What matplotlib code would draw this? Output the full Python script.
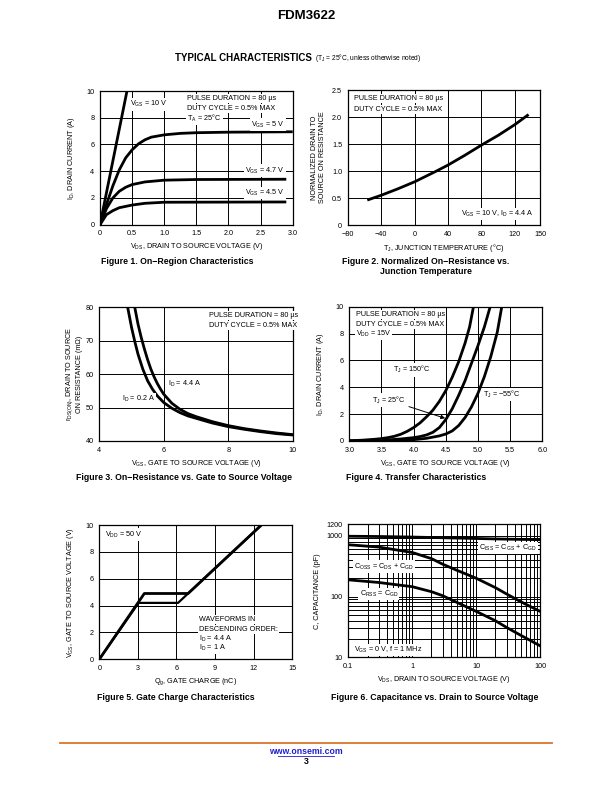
import matplotlib
matplotlib.use("Agg")
import matplotlib.pyplot as plt
import numpy as np

plt.rcParams['font.family'] = ['Liberation Sans', 'DejaVu Sans']
plt.rcParams['mathtext.fontset'] = 'custom'
plt.rcParams['mathtext.rm'] = 'Liberation Sans'
plt.rcParams['mathtext.it'] = 'Liberation Sans:italic'
plt.rcParams['mathtext.bf'] = 'Liberation Sans:bold'

# ---------------- data ----------------
# Fig 1: On-region characteristics
f1_vds_10 = [0.0, 0.42]
f1_id_10 = [0.0, 10.0]
f1_vds_5 = [0, 0.1, 0.2, 0.3, 0.4, 0.5, 0.6, 0.7, 0.8, 1.0, 1.25, 1.5, 2.0, 3.0]
f1_id_5 = [0, 1.5, 2.9, 4.1, 5.0, 5.6, 6.05, 6.35, 6.55, 6.72, 6.83, 6.88, 6.92, 6.95]
f1_vds_47 = [0, 0.1, 0.2, 0.3, 0.4, 0.5, 0.7, 1.0, 1.5, 2.9]
f1_id_47 = [0, 1.2, 2.0, 2.5, 2.8, 3.0, 3.2, 3.33, 3.38, 3.4]
f1_vds_45 = [0, 0.1, 0.2, 0.3, 0.5, 0.7, 1.0, 2.9]
f1_id_45 = [0, 0.75, 1.05, 1.27, 1.47, 1.6, 1.68, 1.7]

# Fig 2: normalized on-resistance vs junction temperature
f2_tj = [-55, -40, -20, 0, 25, 40, 60, 80, 100, 120, 135]
f2_rn = [0.47, 0.55, 0.67, 0.80, 0.99, 1.11, 1.29, 1.48, 1.66, 1.86, 2.03]

# Fig 3: on-resistance vs gate voltage
f3_vgs_02 = [4.88, 4.95, 5.0, 5.1, 5.2, 5.35, 5.5, 5.65, 5.8, 6.0, 6.25, 6.5, 6.75,
             7.0, 7.5, 8.0, 8.5, 9.0, 9.5, 10.0]
f3_r_02 = [80, 76.5, 74, 69.8, 66, 61.5, 58, 55.5, 53.5, 51.5, 49.8, 48.5, 47.5,
           46.8, 45.4, 44.3, 43.5, 42.8, 42.2, 41.8]
f3_vgs_44 = [5.1, 5.15, 5.2, 5.3, 5.4, 5.5, 5.6, 5.7, 5.8, 5.9, 6.0, 6.25, 6.5, 6.75,
             7.0, 7.5, 8.0, 8.5, 9.0, 9.5, 10.0]
f3_r_44 = [80, 77.5, 75, 71, 67.5, 64.3, 61.5, 59.2, 57.2, 55.5, 54, 51.3, 49.5, 48.2,
           47.3, 45.8, 44.6, 43.7, 43.0, 42.4, 41.9]

# Fig 4: transfer characteristics
f4_vgs_150 = [3.0, 3.2, 3.4, 3.5, 3.6, 3.7, 3.8, 3.9, 4.0, 4.1, 4.2, 4.3, 4.4, 4.5,
              4.6, 4.7, 4.8, 4.87, 4.93]
f4_id_150 = [0.02, 0.06, 0.13, 0.18, 0.25, 0.35, 0.5, 0.72, 1.0, 1.35, 1.8, 2.3, 2.95,
             3.75, 4.75, 5.9, 7.3, 8.5, 10]
f4_vgs_25 = [3.0, 3.5, 3.8, 4.0, 4.1, 4.2, 4.3, 4.4, 4.5, 4.6, 4.7, 4.8, 4.9, 5.0,
             5.1, 5.19]
f4_id_25 = [0.0, 0.05, 0.15, 0.25, 0.33, 0.45, 0.65, 1.0, 1.6, 2.4, 3.4, 4.5, 5.8,
            7.1, 8.5, 10]
f4_vgs_m55 = [3.0, 3.5, 4.0, 4.2, 4.4, 4.5, 4.6, 4.7, 4.8, 4.9, 5.0, 5.1, 5.2, 5.3, 5.37]
f4_id_m55 = [0, 0.01, 0.1, 0.2, 0.38, 0.52, 0.75, 1.15, 1.75, 2.55, 3.55, 4.8, 6.3,
             8.1, 10]

# Fig 5: gate charge
f5_qg_44 = [0, 3.5, 6.9, 12.6]
f5_vgs_44 = [0, 4.9, 4.9, 10.0]
f5_qg_1 = [0, 3.05, 6.12, 6.9, 12.6]
f5_vgs_1 = [0, 4.2, 4.2, 4.9, 10.0]

# Fig 6: capacitance
f6_vds = [0.1, 0.3, 1, 2, 3, 5, 10, 20, 30, 50, 100]
f6_ciss = [980, 970, 950, 935, 925, 915, 900, 885, 878, 870, 860]
f6_coss = [710, 650, 530, 420, 340, 270, 200, 140, 110, 82, 57]
f6_crss = [188, 170, 145, 120, 103, 80, 57, 40, 31, 23, 15.5]
f6_yticks = [10, 100, 1000, 1540]
f6_yticklabels = ['10', '100', '1000', '1200']

# ---------------- figure ----------------
W, H = 612, 792
fig = plt.figure(figsize=(W / 100, H / 100), dpi=100)


def add_ax(left, right, top, bottom):
    return fig.add_axes([left / W, 1 - bottom / H, (right - left) / W, (bottom - top) / H])


FS = 5.2
LW = 2.0
bb = dict(facecolor='white', edgecolor='none', pad=0.8)


def style(ax):
    ax.tick_params(length=0, labelsize=FS, pad=4)
    ax.grid(True, color='black', linewidth=0.7)
    ax.set_axisbelow(True)
    for s in ax.spines.values():
        s.set_linewidth(0.9)


def sub(base, s):
    return base + r"$_{\rm " + s + "}$"


XLP = 3

# Fig 1
ax1 = add_ax(100, 292.7, 91, 224.7)
style(ax1)
ax1.set_xlim(0, 3.0)
ax1.set_ylim(0, 10)
ax1.set_xticks(np.arange(0, 3.01, 0.5))
ax1.set_xticklabels(['0', '0.5', '1.0', '1.5', '2.0', '2.5', '3.0'])
ax1.set_yticks(np.arange(0, 10.1, 2))
for x, y in [(f1_vds_10, f1_id_10), (f1_vds_5, f1_id_5), (f1_vds_47, f1_id_47), (f1_vds_45, f1_id_45)]:
    ax1.plot(x, y, color='black', lw=LW, solid_capstyle='butt')
ax1.text(0.47, 9.0, sub('V', 'GS') + ' = 10 V', fontsize=FS, va='center', bbox=bb)
ax1.text(1.36, 9.45, 'PULSE DURATION = 80 µs', fontsize=FS, va='center', bbox=bb)
ax1.text(1.36, 8.7, 'DUTY CYCLE = 0.5% MAX', fontsize=FS, va='center', bbox=bb)
ax1.text(1.36, 7.95, sub('T', 'A') + ' = 25°C', fontsize=FS, va='center', bbox=bb)
ax1.text(2.88, 7.5, sub('V', 'GS') + ' = 5 V', fontsize=FS, va='center', ha='right', bbox=bb)
ax1.text(2.88, 4.05, sub('V', 'GS') + ' = 4.7 V', fontsize=FS, va='center', ha='right', bbox=bb)
ax1.text(2.88, 2.35, sub('V', 'GS') + ' = 4.5 V', fontsize=FS, va='center', ha='right', bbox=bb)
ax1.set_xlabel(sub('V', 'DS') + ', DRAIN TO SOURCE VOLTAGE (V)', fontsize=FS, labelpad=XLP)
ax1.set_ylabel(sub('I', 'D') + ', DRAIN CURRENT (A)', fontsize=FS, labelpad=7)

# Fig 2
ax2 = add_ax(347.7, 540, 90, 225)
style(ax2)
ax2.set_xlim(-80, 150)
ax2.set_ylim(0, 2.5)
ax2.set_xticks([-80, -40, 0, 40, 80, 120, 150])
ax2.set_yticks([0, 0.5, 1.0, 1.5, 2.0, 2.5])
ax2.set_yticklabels(['0', '0.5', '1.0', '1.5', '2.0', '2.5'])
ax2.plot(f2_tj, f2_rn, color='black', lw=LW)
ax2.text(-72, 2.35, 'PULSE DURATION = 80 µs', fontsize=FS, va='center', bbox=bb)
ax2.text(-72, 2.14, 'DUTY CYCLE = 0.5% MAX', fontsize=FS, va='center', bbox=bb)
ax2.text(143, 0.2, sub('V', 'GS') + ' = 10 V, ' + sub('I', 'D') + ' = 4.4 A', fontsize=FS,
         va='center', ha='right', bbox=bb)
ax2.set_xlabel(sub('T', 'J') + ', JUNCTION TEMPERATURE (°C)', fontsize=FS, labelpad=XLP)
ax2.set_ylabel('NORMALIZED DRAIN TO\nSOURCE ON RESISTANCE', fontsize=FS, labelpad=4)

# Fig 3
ax3 = add_ax(99.3, 292.7, 307.3, 441)
style(ax3)
ax3.set_xlim(4, 10)
ax3.set_ylim(40, 80)
ax3.set_xticks([4, 6, 8, 10])
ax3.set_yticks([40, 50, 60, 70, 80])
ax3.plot(f3_vgs_02, f3_r_02, color='black', lw=LW)
ax3.plot(f3_vgs_44, f3_r_44, color='black', lw=LW)
ax3.text(7.4, 77.5, 'PULSE DURATION = 80 µs', fontsize=FS, va='center', bbox=bb)
ax3.text(7.4, 74.6, 'DUTY CYCLE = 0.5% MAX', fontsize=FS, va='center', bbox=bb)
ax3.text(6.14, 57.0, sub('I', 'D') + ' = 4.4 A', fontsize=FS, va='center', bbox=bb)
ax3.text(4.69, 52.6, sub('I', 'D') + ' = 0.2 A', fontsize=FS, va='center', bbox=bb)
ax3.set_xlabel(sub('V', 'GS') + ', GATE TO SOURCE VOLTAGE (V)', fontsize=FS, labelpad=XLP)
ax3.set_ylabel(sub('r', 'DS(ON)') + ', DRAIN TO SOURCE\nON RESISTANCE (mΩ)', fontsize=FS, labelpad=2)

# Fig 4
ax4 = add_ax(349.3, 542.3, 306.7, 441)
style(ax4)
ax4.set_xlim(3.0, 6.0)
ax4.set_ylim(0, 10)
ax4.set_xticks(np.arange(3.0, 6.01, 0.5))
ax4.set_xticklabels(['3.0', '3.5', '4.0', '4.5', '5.0', '5.5', '6.0'])
ax4.set_yticks(np.arange(0, 10.1, 2))
ax4.plot(f4_vgs_150, f4_id_150, color='black', lw=LW)
ax4.plot(f4_vgs_25, f4_id_25, color='black', lw=LW)
ax4.plot(f4_vgs_m55, f4_id_m55, color='black', lw=LW)
ax4.text(3.1, 9.45, 'PULSE DURATION = 80 µs', fontsize=FS, va='center', bbox=bb)
ax4.text(3.1, 8.7, 'DUTY CYCLE = 0.5% MAX', fontsize=FS, va='center', bbox=bb)
ax4.text(3.1, 7.95, sub('V', 'DD') + ' = 15V', fontsize=FS, va='center', bbox=bb)
ax4.text(3.68, 5.3, sub('T', 'J') + ' = 150°C', fontsize=FS, va='center', bbox=bb)
ax4.text(5.08, 3.45, sub('T', 'J') + ' = −55°C', fontsize=FS, va='center', bbox=bb)
ax4.annotate(sub('T', 'J') + ' = 25°C', xy=(4.49, 1.69), xytext=(3.35, 3.05),
             fontsize=FS, va='center', bbox=bb,
             arrowprops=dict(arrowstyle='-|>', color='black', lw=0.7, mutation_scale=6,
                             shrinkA=2, shrinkB=0))
ax4.set_xlabel(sub('V', 'GS') + ', GATE TO SOURCE VOLTAGE (V)', fontsize=FS, labelpad=XLP)
ax4.set_ylabel(sub('I', 'D') + ', DRAIN CURRENT (A)', fontsize=FS, labelpad=7)

# Fig 5
ax5 = add_ax(99.3, 292.3, 525, 659.3)
style(ax5)
ax5.set_xlim(0, 15)
ax5.set_ylim(0, 10)
ax5.set_xticks([0, 3, 6, 9, 12, 15])
ax5.set_yticks(np.arange(0, 10.1, 2))
ax5.plot(f5_qg_1, f5_vgs_1, color='black', lw=LW * 0.8)
ax5.plot(f5_qg_44, f5_vgs_44, color='black', lw=LW)
ax5.text(0.45, 9.3, sub('V', 'DD') + ' = 50 V', fontsize=FS, va='center', bbox=bb)
ax5.text(7.75, 2.95, 'WAVEFORMS IN', fontsize=FS, va='center', bbox=bb)
ax5.text(7.75, 2.22, 'DESCENDING ORDER:', fontsize=FS, va='center', bbox=bb)
ax5.text(7.75, 1.52, sub('I', 'D') + ' = 4.4 A', fontsize=FS, va='center', bbox=bb)
ax5.text(7.75, 0.82, sub('I', 'D') + ' = 1 A', fontsize=FS, va='center', bbox=bb)
ax5.set_xlabel(sub('Q', 'g') + ', GATE CHARGE (nC)', fontsize=FS, labelpad=XLP)
ax5.set_ylabel(sub('V', 'GS') + ', GATE TO SOURCE VOLTAGE (V)', fontsize=FS, labelpad=7)

# Fig 6
ax6 = add_ax(348.3, 540, 524.3, 657.3)
ax6.set_xscale('log')
ax6.set_yscale('log')
ax6.set_xlim(0.1, 100)
ax6.set_ylim(10, f6_yticks[-1])
ax6.tick_params(which='both', length=0, labelsize=FS, pad=4)
ax6.grid(True, which='both', color='black', linewidth=0.7)
ax6.set_axisbelow(True)
for s in ax6.spines.values():
    s.set_linewidth(0.9)
ax6.set_xticks([0.1, 1, 10, 100])
ax6.set_xticklabels(['0.1', '1', '10', '100'])
ax6.set_yticks(f6_yticks)
ax6.set_yticklabels(f6_yticklabels)
ax6.yaxis.set_minor_formatter(matplotlib.ticker.NullFormatter())
ax6.xaxis.set_minor_formatter(matplotlib.ticker.NullFormatter())
ax6.plot(f6_vds, f6_ciss, color='black', lw=LW)
ax6.plot(f6_vds, f6_coss, color='black', lw=LW)
ax6.plot(f6_vds, f6_crss, color='black', lw=LW)
ax6.text(90, 627, sub('C', 'ISS') + ' = ' + sub('C', 'GS') + ' + ' + sub('C', 'GD'), fontsize=FS,
         va='center', ha='right', bbox=bb)
ax6.text(0.125, 312, sub('C', 'OSS') + ' = ' + sub('C', 'DS') + ' + ' + sub('C', 'GD'), fontsize=FS,
         va='center', bbox=bb)
ax6.text(0.15, 109, sub('C', 'RSS') + ' = ' + sub('C', 'GD'), fontsize=FS, va='center', bbox=bb)
ax6.text(0.125, 13.3, sub('V', 'GS') + ' = 0 V, f = 1 MHz', fontsize=FS, va='center', bbox=bb)
ax6.set_xlabel(sub('V', 'DS') + ', DRAIN TO SOURCE VOLTAGE (V)', fontsize=FS, labelpad=XLP)
ax6.set_ylabel('C, CAPACITANCE (pF)', fontsize=FS, labelpad=4)

# ---------------- page text ----------------
def ftext(x, y, s, **kw):
    fig.text(x / W, 1 - y / H, s, **kw)


ftext(306, 16, 'FDM3622', fontsize=9.5, fontweight='bold', ha='center', va='center')
ftext(312, 58, 'TYPICAL CHARACTERISTICS', fontsize=7, fontweight='bold', ha='right', va='center')
ftext(315, 58.5, '(T' + r'$_{\rm J}$' + ' = 25°C, unless otherwise noted)', fontsize=4.8,
      ha='left', va='center')

cap = dict(fontsize=6.3, fontweight='bold', ha='center', va='center')
ftext(177, 261, 'Figure 1. On−Region Characteristics', **cap)
ftext(426, 261.5, 'Figure 2. Normalized On−Resistance vs.', **cap)
ftext(426, 271.5, 'Junction Temperature', **cap)
ftext(184, 478, 'Figure 3. On−Resistance vs. Gate to Source Voltage', **cap)
ftext(416, 478, 'Figure 4. Transfer Characteristics', **cap)
ftext(176, 697, 'Figure 5. Gate Charge Characteristics', **cap)
ftext(435, 697, 'Figure 6. Capacitance vs. Drain to Source Voltage', **cap)

fig.add_artist(plt.Line2D([60 / W, 552 / W], [1 - 743 / H, 1 - 743 / H], color='#D9772B', lw=1.3))
ftext(306, 752, 'www.onsemi.com', fontsize=6.3, fontweight='bold', color='#1F1FD0',
      ha='center', va='center')
fig.add_artist(plt.Line2D([278 / W, 334 / W], [1 - 755.8 / H, 1 - 755.8 / H], color='#1F1FD0', lw=0.6))
ftext(306, 762, '3', fontsize=6.3, fontweight='bold', ha='center', va='center')

fig.savefig('out.png', dpi=100)
